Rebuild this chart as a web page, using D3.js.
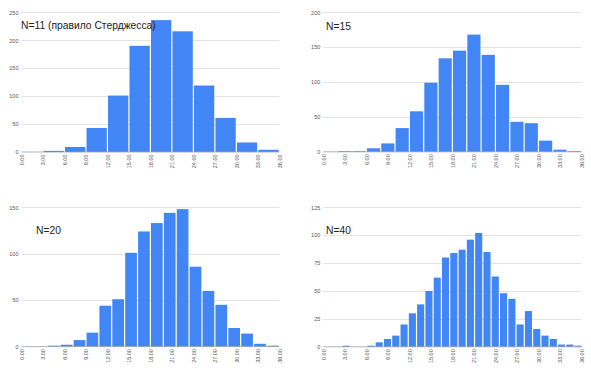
<!DOCTYPE html>
<html>
<head>
<meta charset="utf-8">
<script src="https://cdn.jsdelivr.net/npm/d3@7"></script>
<style>
  html, body { margin: 0; padding: 0; background: #fff; }
  svg { display: block; }
</style>
</head>
<body>
<svg id="chart" width="591" height="374"></svg>
<script>
// ---- data ----
const panelTitles = ["N=11 (правило Стерджесса)", "N=15", "N=20", "N=40"];
const binStarts = [0, 0, 0, 0.28];
const binWidths = [3, 2, 1.8, 1.156];
const counts11 = [0, 2, 9, 43, 101, 190, 236, 216, 119, 61, 17, 4];
const counts15 = [0, 1, 1, 5, 12, 34, 58, 99, 134, 145, 168, 139, 96, 43, 41, 16, 3, 1];
const counts20 = [0, 0, 1, 2, 7, 15, 44, 51, 101, 124, 133, 144, 148, 86, 60, 45, 20, 14, 3, 1];
const counts40 = [0, 0, 1, 0, 0, 1, 4, 7, 10, 20, 30, 38, 50, 62, 80, 84, 87, 96, 102, 85, 63, 48, 43, 20, 32, 16, 10, 7, 2, 2, 1];
const yMaxes = [250, 200, 150, 125];
const yTickSteps = [50, 50, 50, 25];
const xTickValues = [0, 3, 6, 9, 12, 15, 18, 21, 24, 27, 30, 33, 36];
const allCounts = [counts11, counts15, counts20, counts40];

// ---- layout ----
const panels = [
  { x0: 21.5, x1: 279.3, yTop: 12.3, yBot: 152, titleX: 21, titleY: 28.5 },
  { x0: 323.3, x1: 581.5, yTop: 12.3, yBot: 151.8, titleX: 326, titleY: 30 },
  { x0: 21.5, x1: 279.3, yTop: 207.3, yBot: 346.6, titleX: 36, titleY: 233.5 },
  { x0: 323.3, x1: 581.5, yTop: 207.3, yBot: 346.8, titleX: 326, titleY: 233.5 }
];

const svg = d3.select("#chart");
svg.append("rect").attr("width", 591).attr("height", 374).attr("fill", "#fff");

panels.forEach((p, i) => {
  const g = svg.append("g");
  const x = d3.scaleLinear().domain([0, 36]).range([p.x0, p.x1]);
  const y = d3.scaleLinear().domain([0, yMaxes[i]]).range([p.yBot, p.yTop]);
  const yTicks = d3.range(0, yMaxes[i] + 0.001, yTickSteps[i]);

  // gridlines
  g.selectAll("line.grid").data(yTicks.filter(t => t > 0)).join("line")
    .attr("x1", p.x0).attr("x2", p.x1)
    .attr("y1", d => Math.round(y(d)) + 0.5).attr("y2", d => Math.round(y(d)) + 0.5)
    .attr("stroke", "#e4e4e4").attr("stroke-width", 1);

  // y axis labels
  const yAxis = d3.axisLeft(y).tickValues(yTicks).tickSize(0).tickPadding(3)
    .tickFormat(d3.format("d"));
  const ya = g.append("g").attr("transform", `translate(${p.x0},0)`).call(yAxis);
  ya.select(".domain").remove();
  ya.selectAll("text").attr("font-family", "Liberation Sans, Arial, sans-serif")
    .attr("font-size", 5.5).attr("fill", "#555");

  // bars
  const counts = allCounts[i];
  const bw = binWidths[i];
  const bins = counts.map((c, k) => ({ lo: binStarts[i] + k * bw, hi: binStarts[i] + (k + 1) * bw, c }));
  g.selectAll("rect.bar").data(bins).join("rect")
    .attr("x", d => x(d.lo) + 0.6)
    .attr("width", d => Math.max(0, x(d.hi) - x(d.lo) - 1.2))
    .attr("y", d => y(d.c))
    .attr("height", d => y(0) - y(d.c))
    .attr("fill", "#4285f4");

  // baseline
  g.append("line").attr("x1", p.x0).attr("x2", p.x1)
    .attr("y1", y(0)).attr("y2", y(0))
    .attr("stroke", "#9e9e9e").attr("stroke-width", 0.8);

  // x axis labels (rotated)
  const xAxis = d3.axisBottom(x).tickValues(xTickValues).tickSize(0).tickPadding(0)
    .tickFormat(d3.format(".2f"));
  const xa = g.append("g").attr("transform", `translate(0,${p.yBot})`).call(xAxis);
  xa.select(".domain").remove();
  xa.selectAll("text")
    .attr("font-family", "Liberation Sans, Arial, sans-serif")
    .attr("font-size", 5.5).attr("fill", "#555")
    .attr("text-anchor", "end")
    .attr("dy", "0.35em")
    .attr("transform", "translate(0,2.5) rotate(-90)")
    .attr("x", 0).attr("y", 0);

  // title
  g.append("text").attr("x", p.titleX).attr("y", p.titleY)
    .attr("font-family", "Liberation Sans, Arial, sans-serif")
    .attr("font-size", 10.3).attr("fill", "#222")
    .text(panelTitles[i]);
});
</script>
</body>
</html>
